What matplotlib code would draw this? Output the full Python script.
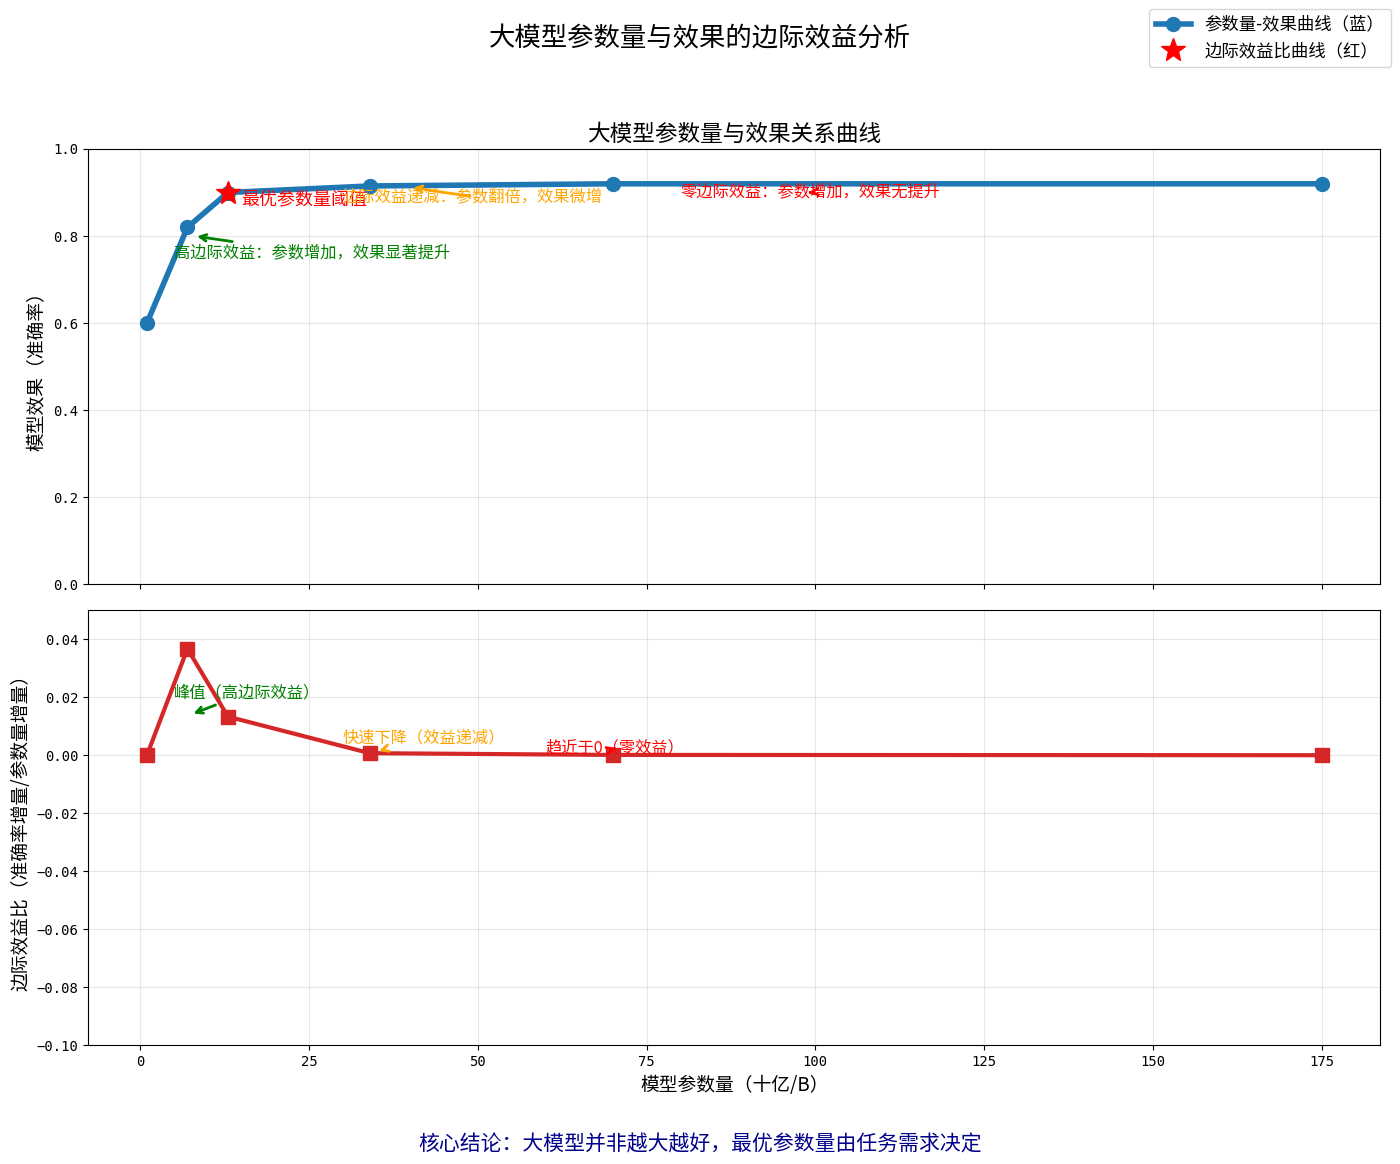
import matplotlib
matplotlib.use("Agg")
import matplotlib.pyplot as plt

plt.rcParams['font.family'] = ['Noto Sans CJK SC', 'DejaVu Sans']
plt.rcParams['axes.unicode_minus'] = True

# 参数量（十亿）和效果
params = [1, 7, 13, 34, 70, 175]
accuracy = [0.60, 0.82, 0.90, 0.915, 0.92, 0.92]
# 边际效益比
marginal = [0.0, 0.0367, 0.0133, 0.0007, 0.0001, 0.0]
best_param = 13
best_acc = 0.90

fig, (ax1, ax2) = plt.subplots(2, 1, figsize=(14, 11.64), dpi=100, sharex=True)
plt.subplots_adjust(left=0.063, right=0.986, top=0.872, bottom=0.102, hspace=0.06)

fig.suptitle("大模型参数量与效果的边际效益分析", fontsize=19, y=0.978)

line1, = ax1.plot(params, accuracy, color="#1f77b4", lw=4, marker="o", markersize=10,
                  label="参数量-效果曲线（蓝）")
star, = ax1.plot([best_param], [best_acc], linestyle="none", marker="*", color="red",
                 markersize=18, label="边际效益比曲线（红）", zorder=5)
ax1.text(15, 0.885, "最优参数量阈值", color="red", fontsize=13, va="center")

ax1.annotate("高边际效益：参数增加，效果显著提升", xy=(8, 0.80), xytext=(5, 0.75),
             color="green", fontsize=11.7,
             arrowprops=dict(arrowstyle="->", color="green", lw=2))
ax1.annotate("边际效益递减：参数翻倍，效果微增", xy=(40, 0.912), xytext=(30, 0.88),
             color="orange", fontsize=11.7,
             arrowprops=dict(arrowstyle="->", color="orange", lw=2))
ax1.annotate("零边际效益：参数增加，效果无提升", xy=(99, 0.90), xytext=(80, 0.89),
             color="red", fontsize=11.7,
             arrowprops=dict(arrowstyle="->", color="red", lw=2))

ax1.set_title("大模型参数量与效果关系曲线", fontsize=16.3)
ax1.set_ylabel("模型效果（准确率）", fontsize=13.5)
ax1.set_ylim(0, 1.0)
ax1.grid(True, alpha=0.3)

ax2.plot(params, marginal, color="#d62728", lw=3, marker="s", markersize=10)
ax2.annotate("峰值（高边际效益）", xy=(7.5, 0.014), xytext=(5, 0.02),
             color="green", fontsize=11.7,
             arrowprops=dict(arrowstyle="->", color="green", lw=2))
ax2.annotate("快速下降（效益递减）", xy=(35, 0.0012), xytext=(30, 0.0045),
             color="orange", fontsize=11.7,
             arrowprops=dict(arrowstyle="->", color="orange", lw=2))
ax2.annotate("趋近于0（零效益）", xy=(70.5, 0.0025), xytext=(60, 0.0008),
             color="red", fontsize=11.7,
             arrowprops=dict(arrowstyle="->", color="red", lw=2))

ax2.set_xlabel("模型参数量（十亿/B）", fontsize=13.5)
ax2.set_ylabel("边际效益比（准确率增量/参数量增量）", fontsize=13.5)
ax2.set_ylim(-0.1, 0.05)
ax2.set_yticks([-0.10, -0.08, -0.06, -0.04, -0.02, 0.00, 0.02, 0.04])
ax2.grid(True, alpha=0.3)

for ax in (ax1, ax2):
    for lab in ax.get_xticklabels() + ax.get_yticklabels():
        lab.set_fontfamily("DejaVu Sans Mono")
        lab.set_fontsize(10)

fig.legend(handles=[line1, star], loc="upper right", fontsize=12.5)

fig.text(0.5, 0.012, "核心结论：大模型并非越大越好，最优参数量由任务需求决定",
         ha="center", fontsize=15, color="darkblue")

plt.savefig("out.png", dpi=100)
